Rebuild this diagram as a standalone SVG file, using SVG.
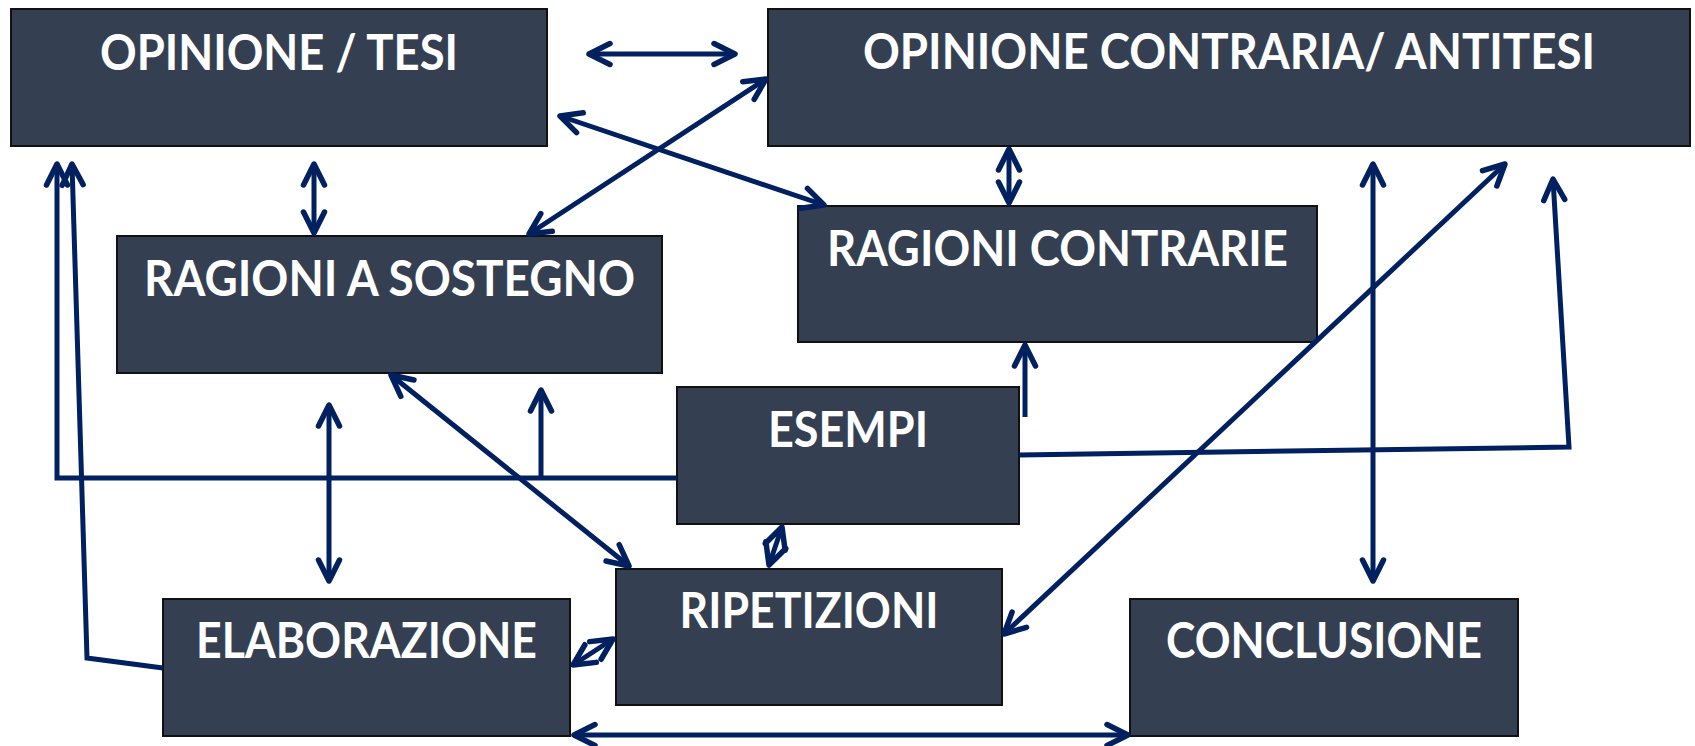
<svg xmlns="http://www.w3.org/2000/svg" width="1695" height="746" viewBox="0 0 1695 746">
  <style>
    .box { fill: #343F51; stroke: #111111; stroke-width: 2; }
    .lbl { fill: #FFFFFF; font-family: Lato, "Open Sans", "Liberation Sans", sans-serif; font-weight: 700; font-size: 49px; text-anchor: middle; }
    .c { fill: none; stroke: #002060; stroke-width: 5; stroke-linejoin: miter; }
    .d { marker-start: url(#ah); marker-end: url(#ah); }
    .s { marker-start: url(#ah); }
    .e { marker-end: url(#ah); }
  </style>
  <defs>
    <marker id="ah" markerUnits="userSpaceOnUse" markerWidth="50" markerHeight="50" refX="0" refY="0" viewBox="-25 -25 50 50" orient="auto-start-reverse" overflow="visible">
      <path d="M-21,-10.5 L0,0 L-21,10.5" fill="none" stroke="#002060" stroke-width="5.5" stroke-linecap="round" stroke-linejoin="round"/>
    </marker>
  </defs>

  <rect width="1695" height="746" fill="#FFFFFF"/>

  <g id="tesi">
    <rect class="box" x="11" y="9" width="536" height="137"/>
    <text class="lbl" x="279" y="70" textLength="358" lengthAdjust="spacingAndGlyphs">OPINIONE / TESI</text>
  </g>
  <g id="antitesi">
    <rect class="box" x="768" y="9" width="922" height="137"/>
    <text class="lbl" x="1229" y="69" textLength="732" lengthAdjust="spacingAndGlyphs">OPINIONE CONTRARIA/ ANTITESI</text>
  </g>
  <g id="ragioni-sostegno">
    <rect class="box" x="117" y="236" width="545" height="137"/>
    <text class="lbl" x="389.5" y="296" textLength="491" lengthAdjust="spacingAndGlyphs">RAGIONI A SOSTEGNO</text>
  </g>
  <g id="ragioni-contrarie">
    <rect class="box" x="798" y="206" width="519" height="136"/>
    <text class="lbl" x="1057.5" y="266" textLength="461" lengthAdjust="spacingAndGlyphs">RAGIONI CONTRARIE</text>
  </g>
  <g id="esempi">
    <rect class="box" x="677" y="387" width="342" height="137"/>
    <text class="lbl" x="848" y="447" textLength="160" lengthAdjust="spacingAndGlyphs">ESEMPI</text>
  </g>
  <g id="ripetizioni">
    <rect class="box" x="616" y="569" width="386" height="136"/>
    <text class="lbl" x="809" y="628" textLength="259" lengthAdjust="spacingAndGlyphs">RIPETIZIONI</text>
  </g>
  <g id="elaborazione">
    <rect class="box" x="163" y="599" width="407" height="137"/>
    <text class="lbl" x="366.5" y="658" textLength="341" lengthAdjust="spacingAndGlyphs">ELABORAZIONE</text>
  </g>
  <g id="conclusione">
    <rect class="box" x="1130" y="599" width="388" height="137"/>
    <text class="lbl" x="1324" y="658" textLength="316" lengthAdjust="spacingAndGlyphs">CONCLUSIONE</text>
  </g>

  <g id="connectors">
    <path class="c d" d="M589,54 L735,54"/>
    <path class="c d" d="M766,79 L529,234"/>
    <path class="c d" d="M560,116 L824,205"/>
    <path class="c d" d="M314,164 L314,233"/>
    <path class="c d" d="M1009,149 L1009,203"/>
    <path class="c d" d="M329,405 L329,581"/>
    <path class="c d" d="M391,375 L629,566"/>
    <path class="c d" d="M782,527 L769,565"/>
    <path class="c d" d="M573,665 L613,639"/>
    <path class="c d" d="M574,735 L1128,735"/>
    <path class="c d" d="M1004,634 L1505,164"/>
    <path class="c d" d="M1373,164 L1373,581"/>
    <path class="c s" d="M57,164 L57,478 L677,478"/>
    <path class="c s" d="M72,164 L87,658 L163,668"/>
    <path class="c e" d="M1019,455 L1569,447 L1553,179"/>
    <path class="c e" d="M541,478 L541,390"/>
    <path class="c e" d="M1025,417 L1025,345"/>
  </g>
</svg>
